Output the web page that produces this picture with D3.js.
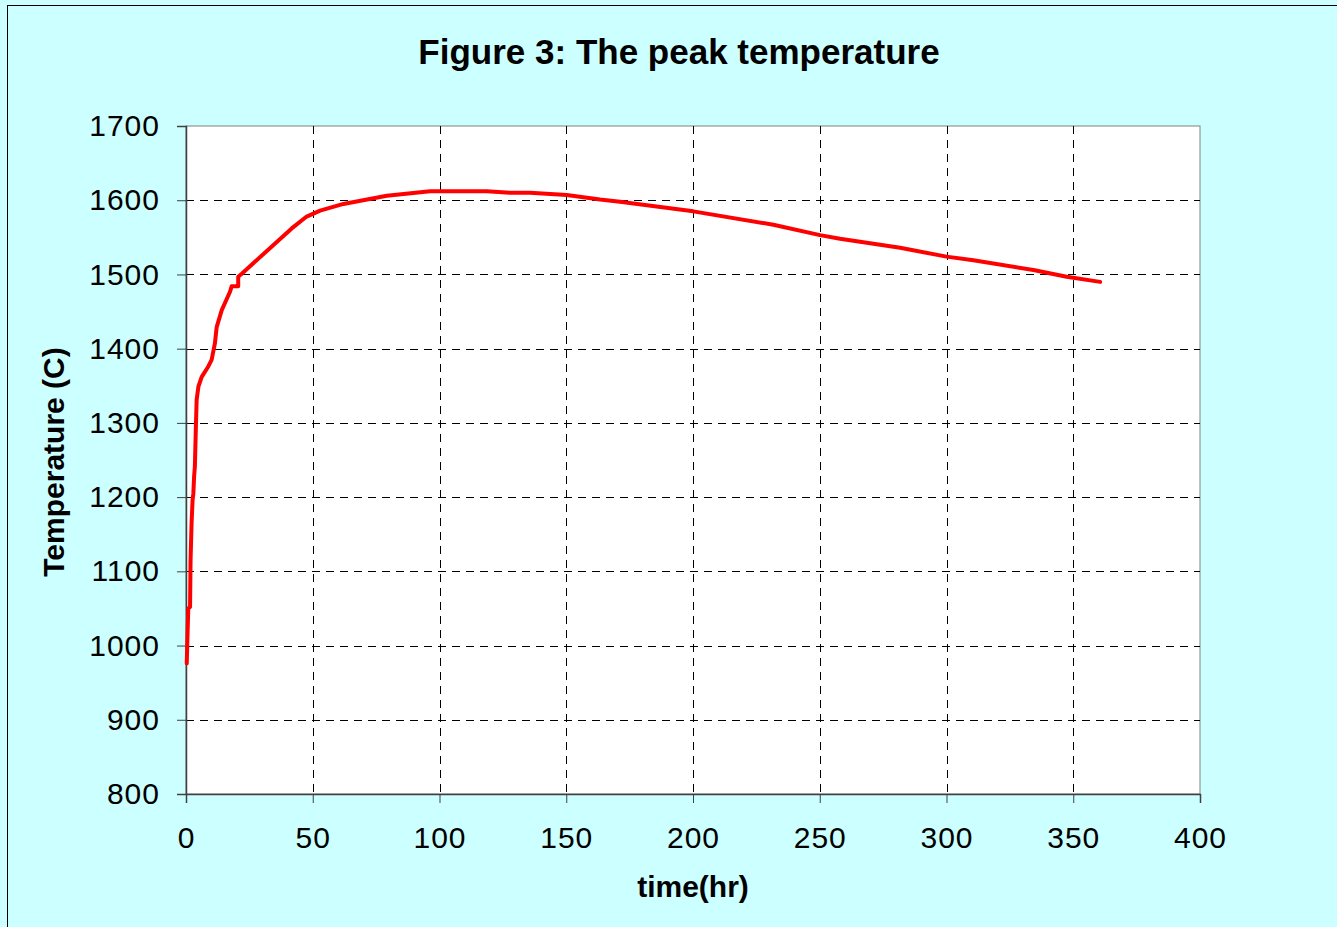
<!DOCTYPE html>
<html><head><meta charset="utf-8">
<script src="https://cdn.jsdelivr.net/npm/d3@7"></script>
<style>body{margin:0;background:#fff}svg{display:block}</style>
</head><body>
<script>
const timeHr = [0.3,0.5,0.9,1.6,1.8,2.2,2.6,2.9,3.2,3.5,3.9,4.2,4.9,6.2,8.8,10.1,11.4,12.1,14.1,17.4,18.0,20.6,20.6,22,41.7,47.6,52.9,62.1,79.2,96.3,118.6,127.8,135.7,150.2,163.3,171.2,200.1,231.7,250.1,258,281.7,300,310.6,334.3,347.4,360.6];
const tempC = [976,1003,1050,1052,1115,1165,1196,1205,1228,1241,1295,1331,1349,1362,1376,1385,1407,1429,1452,1477,1484,1484,1497,1501,1562,1578,1586,1595,1606,1612,1612,1610,1610,1607,1601,1598,1585,1567,1553,1548,1536,1524,1519,1506,1497,1490];
const xTicks = [0,50,100,150,200,250,300,350,400];
const yTicks = [800,900,1000,1100,1200,1300,1400,1500,1600,1700];
const titleText = "Figure 3: The peak temperature";
const xLabel = "time(hr)";
const yLabel = "Temperature (C)";

const W=1337,H=927;
const svg=d3.select("body").append("svg").attr("width",W).attr("height",H);
svg.append("rect").attr("width",W).attr("height",H).attr("fill","#ccffff");
svg.append("rect").attr("x",7.5).attr("y",5.5).attr("width",W).attr("height",H).attr("fill","none").attr("stroke","#000").attr("stroke-width",1);

const L=186,R=1200,T=126,B=794;
const x=d3.scaleLinear().domain([0,400]).range([L,R]);
const y=d3.scaleLinear().domain([800,1700]).range([B,T]);
const font="Liberation Sans, Arial, sans-serif";

svg.append("rect").attr("x",L).attr("y",T).attr("width",R-L).attr("height",B-T).attr("fill","#fff").attr("stroke","#808080").attr("stroke-width",1);

const g=svg.append("g");
g.selectAll(".hg").data(yTicks.filter(v=>v>800&&v<1700)).join("line")
 .attr("x1",L).attr("x2",R).attr("y1",d=>Math.round(y(d))+0.5).attr("y2",d=>Math.round(y(d))+0.5)
 .attr("stroke","#000").attr("stroke-dasharray","8,6").attr("stroke-width",1);
g.selectAll(".vg").data(xTicks.filter(v=>v>0&&v<400)).join("line")
 .attr("y1",T).attr("y2",B).attr("x1",d=>Math.round(x(d))+0.5).attr("x2",d=>Math.round(x(d))+0.5)
 .attr("stroke","#000").attr("stroke-dasharray","8,6").attr("stroke-width",1);

const xAxis=d3.axisBottom(x).tickValues(xTicks).tickSize(9).tickPadding(24).tickFormat(d3.format("d"));
const yAxis=d3.axisLeft(y).tickValues(yTicks).tickSize(9).tickPadding(17).tickFormat(d3.format("d"));
const gx=svg.append("g").attr("transform",`translate(0,${B})`).call(xAxis);
const gy=svg.append("g").attr("transform",`translate(${L},0)`).call(yAxis);
[gx,gy].forEach(a=>{
 a.selectAll("path").attr("stroke","#404040").attr("stroke-width",1.5);
 a.selectAll("line").attr("stroke","#404040");
 a.selectAll("text").attr("font-family",font).attr("font-size",30).attr("fill","#000").style("letter-spacing","1px");
});
gx.selectAll("text").attr("dy","0.71em");

const line=d3.line().x((d,i)=>x(timeHr[i])).y((d,i)=>y(tempC[i]));
svg.append("path").datum(tempC).attr("d",line).attr("fill","none").attr("stroke","#ff0000").attr("stroke-width",4).attr("stroke-linejoin","round").attr("stroke-linecap","round");

svg.append("text").attr("x",679).attr("y",64).attr("text-anchor","middle").attr("font-family",font).attr("font-weight","bold").attr("font-size",35).text(titleText);
svg.append("text").attr("x",693).attr("y",897).attr("text-anchor","middle").attr("font-family",font).attr("font-weight","bold").attr("font-size",30).text(xLabel);
svg.append("text").attr("transform","translate(64,462) rotate(-90)").attr("text-anchor","middle").attr("font-family",font).attr("font-weight","bold").attr("font-size",30).text(yLabel);
</script>
</body></html>
